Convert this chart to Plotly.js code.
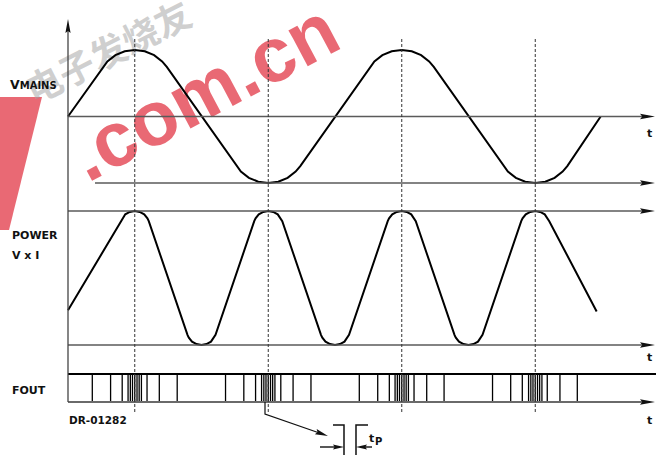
<!DOCTYPE html>
<html><head><meta charset="utf-8">
<script src="https://cdn.plot.ly/plotly-3.0.1.min.js"></script>
<style>html,body{margin:0;padding:0;background:#fff;}#chart{width:656px;height:455px;}</style>
</head><body><div id="chart"></div>
<script>
// ---------------- DATA (time in ms) ----------------
// Mains voltage, normalised (+1 peak, -1 trough)
const vmainsT = [0, 2.6, 2.95, 3.55, 4.25, 5, 5.75, 6.45, 7.05, 7.4,
  12.6, 12.95, 13.55, 14.25, 15, 15.75, 16.45, 17.05, 17.4,
  22.6, 22.95, 23.55, 24.25, 25, 25.75, 26.45, 27.05, 27.4,
  32.6, 32.95, 33.55, 34.25, 35, 35.75, 36.45, 37.05, 37.4, 39.9];
const vmainsV = [0, 0.746, 0.829, 0.922, 0.98, 1, 0.98, 0.922, 0.829, 0.746,
  -0.746, -0.829, -0.922, -0.98, -1, -0.98, -0.922, -0.829, -0.746,
  0.746, 0.829, 0.922, 0.98, 1, 0.98, 0.922, 0.829, 0.746,
  -0.746, -0.829, -0.922, -0.98, -1, -0.98, -0.922, -0.829, -0.746, 0];
// Power V x I, normalised (0 .. 1)
const powerT = [0, 3.95, 4.05, 4.29, 4.63, 5, 5.37, 5.71, 5.95, 6.05,
  8.95, 9.05, 9.29, 9.63, 10, 10.37, 10.71, 10.95, 11.05,
  13.95, 14.05, 14.29, 14.63, 15, 15.37, 15.71, 15.95, 16.05,
  18.95, 19.05, 19.29, 19.63, 20, 20.37, 20.71, 20.95, 21.05,
  23.95, 24.05, 24.29, 24.63, 25, 25.37, 25.71, 25.95, 26.05,
  28.95, 29.05, 29.29, 29.63, 30, 30.37, 30.71, 30.95, 31.05,
  33.95, 34.05, 34.29, 34.63, 35, 35.37, 35.71, 35.95, 36.05, 39.6];
const powerP = [0.26, 0.924, 0.945, 0.975, 0.993, 1, 0.993, 0.975, 0.945, 0.924,
  0.076, 0.055, 0.025, 0.007, 0, 0.007, 0.025, 0.055, 0.076,
  0.924, 0.945, 0.975, 0.993, 1, 0.993, 0.975, 0.945, 0.924,
  0.076, 0.055, 0.025, 0.007, 0, 0.007, 0.025, 0.055, 0.076,
  0.924, 0.945, 0.975, 0.993, 1, 0.993, 0.975, 0.945, 0.924,
  0.076, 0.055, 0.025, 0.007, 0, 0.007, 0.025, 0.055, 0.076,
  0.924, 0.945, 0.975, 0.993, 1, 0.993, 0.975, 0.945, 0.924, 0.25];
// FOUT pulse times
const pulseT = [1.82, 3.19, 4.06, 4.5, 4.67, 4.83, 5, 5.17, 5.33, 5.5, 5.92, 6.84, 8.18,
  11.8, 13.17, 14.05, 14.5, 14.67, 14.83, 15, 15.17, 15.33, 15.5, 15.94, 16.86, 18.2,
  21.82, 23.2, 24.07, 24.5, 24.67, 24.83, 25, 25.17, 25.33, 25.5, 25.92, 26.87, 28.17,
  31.8, 33.16, 34.03, 34.5, 34.67, 34.83, 35, 35.17, 35.33, 35.5, 35.9, 36.85, 38.15];
// peak instants marked by dashed lines
const markerT = [5, 15, 25, 35];
const rowLabels = ["POWER", "V x I", "FOUT"];
const drawingNo = "DR-01282";

// ---------------- LAYOUT ----------------
const W = 656, H = 455;
const X0PX = 68, PXMS = 13.35;
const VM = {zero: 116.5, scale: 66.5}, PW = {zero: 345, scale: 134}, FO = {zero: 402, scale: 28};
const rng = s => [(s.zero - H) / s.scale, s.zero / s.scale];
const yPx = (s, v) => s.zero - s.scale * v;
const tAt = px => (px - X0PX) / PXMS;
const X = px => px / W, Y = py => 1 - py / H;
const path = pts => 'M' + pts.map(p => X(p[0]).toFixed(5) + ',' + Y(p[1]).toFixed(5)).join('L') + 'Z';
const openPath = pts => 'M' + pts.map(p => X(p[0]).toFixed(5) + ',' + Y(p[1]).toFixed(5)).join('L');
function head(tx, ty, dx, dy, len, hw) {
  const L = Math.hypot(dx, dy), ux = dx / L, uy = dy / L, nx = -uy, ny = ux;
  const bx = tx - len * ux, by = ty - len * uy;
  return {type: 'path', xref: 'paper', yref: 'paper', line: {width: 0}, fillcolor: '#111',
    path: path([[tx, ty], [bx + hw * nx, by + hw * ny], [tx - 0.85 * len * ux, ty - 0.85 * len * uy], [bx - hw * nx, by - hw * ny]])};
}
const pline = (pts, w, c) => ({type: 'path', xref: 'paper', yref: 'paper', path: openPath(pts), line: {color: c || '#111', width: w || 1.4}});
const RED = 'rgba(228,72,86,0.82)';
const GRAY = '#5a5a5a';

const shapes = [
  // watermark (below traces)
  {type: 'path', xref: 'paper', yref: 'paper', layer: 'below', line: {width: 0}, fillcolor: RED,
    path: path([[0, 97], [42, 97], [9, 230], [0, 230]])},
  {type: 'rect', xref: 'paper', yref: 'paper', layer: 'below', x0: X(55), x1: X(345), y0: Y(185), y1: Y(-15),
    line: {width: 0}, fillcolor: 'rgba(0,0,0,0)',
    label: {text: '.com.cn', textangle: -28, textposition: 'middle center',
      font: {family: 'Liberation Sans, Arial', size: 77, weight: 'bold', color: RED}}},
  {type: 'rect', xref: 'paper', yref: 'paper', layer: 'below', x0: X(5), x1: X(215), y0: Y(110), y1: Y(0),
    line: {width: 0}, fillcolor: 'rgba(0,0,0,0)',
    label: {text: '电子发烧友', textangle: -27, textposition: 'middle center',
      font: {family: 'Noto Sans CJK SC', size: 36, weight: 'bold', color: 'rgba(160,160,160,0.5)'}}},
  // baselines
  {type: 'line', xref: 'x', yref: 'y', x0: 0, x1: tAt(648), y0: 0, y1: 0, line: {color: GRAY, width: 1.5}},
  {type: 'line', xref: 'x', yref: 'y', x0: tAt(95), x1: tAt(648), y0: -1, y1: -1, line: {color: GRAY, width: 1.5}},
  {type: 'line', xref: 'x', yref: 'y2', x0: 0, x1: tAt(648), y0: 1, y1: 1, line: {color: GRAY, width: 1.5}},
  {type: 'line', xref: 'x', yref: 'y2', x0: 0, x1: tAt(648), y0: 0, y1: 0, line: {color: GRAY, width: 1.5}},
  {type: 'line', xref: 'x', yref: 'y3', x0: 0, x1: tAt(657), y0: 1, y1: 1, line: {color: '#000', width: 2}},
  {type: 'line', xref: 'x', yref: 'y3', x0: 0, x1: tAt(648), y0: 0, y1: 0, line: {color: '#6a6a6a', width: 2}},
  // vertical axis
  {type: 'line', xref: 'x', yref: 'paper', x0: 0, x1: 0, y0: Y(402), y1: Y(28), line: {color: '#444', width: 1.3}},
  head(X0PX, 19, 0, -1, 14, 2.6),
];
markerT.forEach(t => shapes.push({type: 'line', xref: 'x', yref: 'paper', x0: t, x1: t, y0: Y(39), y1: Y(414),
  line: {color: '#333', width: 1, dash: '3px,2px'}}));
[yPx(VM, 0), yPx(VM, -1), yPx(PW, 1), yPx(PW, 0), yPx(FO, 0)].forEach(py => shapes.push(head(655, py, 1, 0, 15, 2.8)));
// callout arrow
shapes.push(pline([[265, 402], [265, 414], [318, 432.5]], 1.2));
shapes.push(head(328, 436, 63, 22, 13, 2.8));
// tp inset
shapes.push(pline([[333, 425], [344, 425], [344, 456]], 1.5));
shapes.push(pline([[356, 456], [356, 425], [368, 425]], 1.5));
shapes.push(pline([[320, 447], [336, 447]], 1.4));
shapes.push(head(344, 447, 1, 0, 11, 2.6));
shapes.push(pline([[372, 447], [364, 447]], 1.4));
shapes.push(head(356, 447, -1, 0, 11, 2.6));

const F = {family: 'DejaVu Sans, Arial', size: 11, color: '#111', weight: 'bold'};
const ann = (text, x, y, xa, size) => ({text, xref: 'paper', yref: 'paper', x: X(x), y: Y(y), xanchor: xa || 'left',
  yanchor: 'middle', showarrow: false, font: Object.assign({}, F, size ? {size} : {})});
const annotations = [
  ann('V<span style="font-size:10px">MAINS</span>', 8, 84, 'left', 12.5),
  ann(rowLabels[0], 10, 235),
  ann(rowLabels[1], 10, 255),
  ann(rowLabels[2], 10, 390),
  ann(drawingNo, 67, 420, 'left', 10.5),
  ann('t', 649, 133, 'center'),
  ann('t', 649, 357, 'center'),
  ann('t', 649, 420, 'center'),
  ann('t', 371, 438, 'center'),
  ann('P', 378.5, 441.5, 'center', 10),
];

const traces = [
  {x: vmainsT, y: vmainsV, yaxis: 'y', mode: 'lines', line: {color: '#000', width: 2}, hoverinfo: 'skip'},
  {x: powerT, y: powerP, yaxis: 'y2', mode: 'lines', line: {color: '#000', width: 2}, hoverinfo: 'skip'},
  {x: pulseT.flatMap(t => [t, t, null]), y: pulseT.flatMap(() => [0, 1, null]), yaxis: 'y3', mode: 'lines',
    line: {color: '#000', width: 1.3}, hoverinfo: 'skip'},
];

const hidden = {visible: false, fixedrange: true};
const layout = {
  width: W, height: H, margin: {l: 0, r: 0, t: 0, b: 0, pad: 0},
  paper_bgcolor: '#fff', plot_bgcolor: '#fff', showlegend: false,
  xaxis: Object.assign({range: [tAt(0), tAt(W)]}, hidden),
  yaxis: Object.assign({range: rng(VM)}, hidden),
  yaxis2: Object.assign({range: rng(PW), overlaying: 'y'}, hidden),
  yaxis3: Object.assign({range: rng(FO), overlaying: 'y'}, hidden),
  shapes, annotations,
};
Plotly.newPlot('chart', traces, layout, {staticPlot: true, displayModeBar: false});
</script></body></html>
